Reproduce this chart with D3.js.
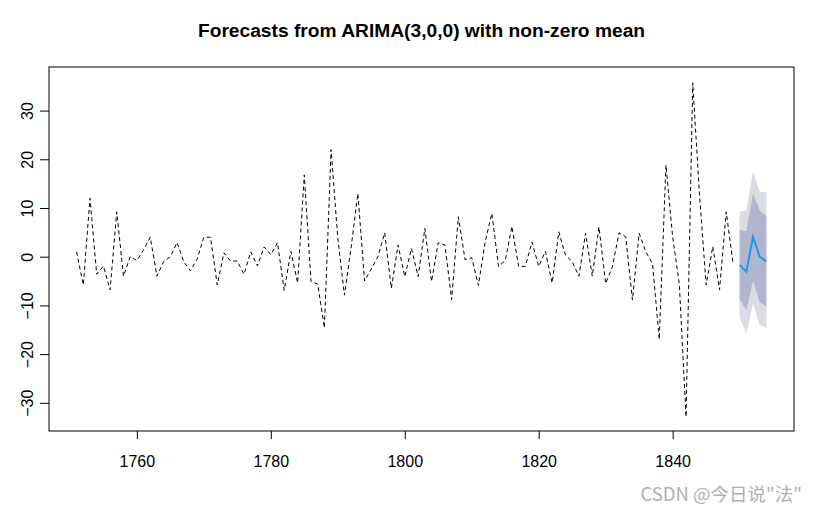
<!DOCTYPE html>
<html><head><meta charset="utf-8">
<script src="https://cdn.jsdelivr.net/npm/d3@7"></script>
<style>body{margin:0;background:#fff}svg{display:block}</style>
</head><body>
<svg id="c" width="816" height="514"></svg>
<script>
const startYear = 1751;
const observed = [
  1.0, -5.8, 12.0, -3.6, -1.9, -6.8, 9.2, -4.0, 0.0, -0.8,
  1.4, 4.0, -4.0, -1.0, 0.0, 2.9, -1.0, -2.9, -0.5, 4.0,
  4.0, -5.8, 0.8, -0.9, -0.9, -3.6, 1.0, -1.9, 2.0, 0.4,
  2.9, -6.9, 1.1, -5.4, 16.8, -5.1, -5.6, -14.6, 22.0, 3.8,
  -7.9, 2.0, 13.0, -5.0, -2.5, 0.0, 4.9, -6.5, 2.4, -4.1,
  1.7, -4.1, 5.8, -5.1, 2.9, 2.4, -8.8, 8.2, -0.6, -0.2,
  -5.9, 3.0, 8.9, -2.0, -0.8, 6.2, -2.0, -2.0, 3.0, -2.0,
  1.1, -5.4, 5.1, 0.3, -1.0, -4.0, 4.8, -4.0, 6.1, -5.5,
  -2.1, 4.9, 4.1, -8.9, 4.8, 1.0, -1.5, -17.0, 18.8, 4.1,
  -5.7, -32.9, 35.7, 13.0, -5.8, 2.1, -6.8, 9.2, -1.2
];
const forecastYears = [1850, 1851, 1852, 1853, 1854];
const forecastMean = [-1.7, -3.1, 4.1, 0.0, -1.0];
const lo80 = [-8.7, -11.0, -4.9, -9.4, -10.1];
const hi80 = [5.5, 5.2, 13.0, 9.5, 8.3];
const lo95 = [-12.4, -16.0, -9.6, -14.0, -14.6];
const hi95 = [9.2, 9.6, 17.4, 13.4, 13.2];
const xTicks = [1760, 1780, 1800, 1820, 1840];
const yTicks = [-30, -20, -10, 0, 10, 20, 30];
const title = "Forecasts from ARIMA(3,0,0) with non-zero mean";
const watermark = "CSDN @今日说\"法\"";

const svg = d3.select("#c");
const L = 49, R = 794, T = 67, B = 431;
const x = d3.scaleLinear().domain([1746.88, 1858.12]).range([L, R]);
const y = d3.scaleLinear().domain([-35.79, 38.95]).range([B, T]);
const font = "'Liberation Sans', Arial, sans-serif";

const obs = observed.map((v, i) => ({yr: startYear + i, v}));
const fc = forecastYears.map((yr, i) => ({yr, m: forecastMean[i], l8: lo80[i], h8: hi80[i], l9: lo95[i], h9: hi95[i]}));

// intervals
svg.append("path").datum(fc)
  .attr("d", d3.area().x(d => x(d.yr)).y0(d => y(d.l9)).y1(d => y(d.h9)))
  .attr("fill", "#DBDBE3");
svg.append("path").datum(fc)
  .attr("d", d3.area().x(d => x(d.yr)).y0(d => y(d.l8)).y1(d => y(d.h8)))
  .attr("fill", "#B1B5D0");

// observed
svg.append("path").datum(obs)
  .attr("d", d3.line().x(d => x(d.yr)).y(d => y(d.v)))
  .attr("fill", "none").attr("stroke", "#000").attr("stroke-width", 1)
  .attr("stroke-dasharray", "4,3");

// forecast mean
svg.append("path").datum(fc)
  .attr("d", d3.line().x(d => x(d.yr)).y(d => y(d.m)))
  .attr("fill", "none").attr("stroke", "#2297E6").attr("stroke-width", 2);

// box
svg.append("rect").attr("x", L).attr("y", T).attr("width", R - L).attr("height", B - T)
  .attr("fill", "none").attr("stroke", "#000").attr("stroke-width", 1);

// x axis
const xa = svg.append("g").attr("transform", `translate(0,${B})`)
  .call(d3.axisBottom(x).tickValues(xTicks).tickFormat(d3.format("d")).tickSize(8).tickPadding(17));
xa.select(".domain").remove();
xa.selectAll("text").attr("font-family", font).attr("font-size", 16).attr("fill", "#000");
xa.selectAll("line").attr("stroke", "#000");

// y axis
const ya = svg.append("g").attr("transform", `translate(${L},0)`)
  .call(d3.axisLeft(y).tickValues(yTicks).tickFormat(d3.format("d")).tickSize(9).tickPadding(0));
ya.select(".domain").remove();
ya.selectAll("line").attr("stroke", "#000");
ya.selectAll("text")
  .attr("font-family", font).attr("font-size", 16).attr("fill", "#000")
  .attr("x", null).attr("dy", null)
  .attr("text-anchor", "middle")
  .attr("transform", "translate(-22,0) rotate(-90)")
  .attr("dominant-baseline", "central");

// title
svg.append("text").attr("x", (L + R) / 2).attr("y", 37)
  .attr("text-anchor", "middle").attr("font-family", font)
  .attr("font-weight", "bold").attr("font-size", 19.2).text(title);

// watermark
svg.append("text").attr("x", 802).attr("y", 501).attr("text-anchor", "end")
  .attr("font-family", "'Noto Sans CJK SC', sans-serif").attr("font-size", 18.5)
  .attr("fill", "#b0b0b0").text(watermark);
</script>
</body></html>
